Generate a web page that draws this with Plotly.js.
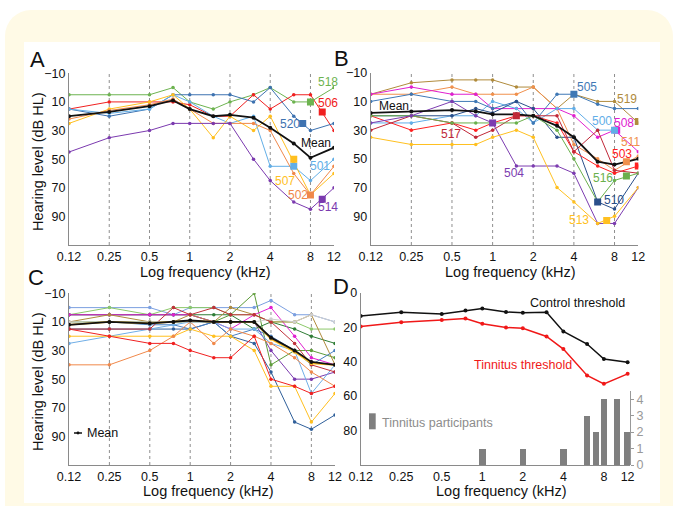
<!DOCTYPE html>
<html><head><meta charset="utf-8">
<script src="https://cdn.plot.ly/plotly-3.0.1.min.js"></script>
<style>
html,body{margin:0;padding:0;background:#fff;}
#wrap{position:relative;width:680px;height:506px;overflow:hidden;background:#fff;}
#cream{position:absolute;left:5px;top:10px;width:668px;height:530px;background:#fffae6;border-radius:26px;}
#white{position:absolute;left:24px;top:42px;width:636px;height:461px;background:#fff;}
#chart{position:absolute;left:0;top:0;width:680px;height:506px;}
</style></head><body>
<div id="wrap"><div id="cream"></div><div id="white"></div><div id="chart"></div></div>
<script>
// ---------- data ----------
const freqs = [0.125,0.25,0.5,0.75,1,1.5,2,3,4,6,8,12];
const tickVals = [0.125,0.25,0.5,1,2,4,8,12];
const tickText = ['0.12','0.25','0.5','1','2','4','8','12'];
const gridVals = [0.25,0.5,1,2,4,8];
const levelTicks = [-10,10,30,50,70,90];
const dTicks = [0,20,40,60,80];
const countTicks = [0,1,2,3,4];

// Panel A (tinnitus participants, group 1)
const A_ids = ['518','506','520','501','507','502','514'];
const A_518 = [5,5,5,0,10,15,10,5,0,10,10,0];
const A_506 = [15,10,10,10,12,20,20,5,15,5,5,30];
const A_520 = [15,20,15,5,5,5,5,10,0,20,30,25];
const A_501 = [15,18,15,5,10,20,25,20,55,55,65,50];
const A_507 = [25,15,10,5,15,35,20,30,20,52,75,60];
const A_502 = [22,16,12,8,15,25,25,25,30,60,75,55];
const A_514 = [45,35,30,25,25,25,25,50,65,80,85,70];
const A_mean = [20,17,13,9,15,20,19,21,28,39,49,42];
const A_pitchF = [8,9.8,7,6,6,8,9.8];
const A_pitchL = [10,17,25,55,50,75,78];

// Panel B (tinnitus participants, group 2)
const B_ids = ['519','511','508','500','505','510','503','517','516','504','513'];
const B_519 = [5,-3,-5,-5,-5,0,0,15,5,10,10,25];
const B_511 = [5,5,0,5,5,5,0,15,40,50,58,48];
const B_508 = [5,0,5,5,15,15,15,15,20,35,30,45];
const B_500 = [25,25,20,20,10,15,25,15,15,30,30,null];
const B_505 = [10,5,10,10,15,10,25,5,5,12,15,15];
const B_510 = [20,20,20,15,18,10,15,35,35,80,85,60];
const B_503 = [20,30,25,30,25,20,20,25,45,55,60,55];
const B_517 = [30,20,25,35,30,20,20,20,45,30,58,60];
const B_516 = [20,20,25,25,25,25,20,30,50,80,65,60];
const B_504 = [25,20,10,20,25,55,55,55,60,95,95,70];
const B_513 = [35,40,40,40,35,30,35,70,80,95,90,70];
const B_mean = [18,17,16,17,19,19,20,27,35,52,54,50];
const B_pitchF = [12,9.8,8.3,8,4,6,12,1.5,9.8,1,7];
const B_pitchL = [24,52,30,30,5,80,55,20,62,25,93];

// Panel C (controls)
const C_1 = [0,0,0,5,0,0,0,0,-5,5,5,10];
const C_2 = [5,0,5,0,0,0,5,5,10,10,15,15];
const C_3 = [5,5,5,5,5,10,10,10,30,50,50,45];
const C_4 = [10,10,10,10,10,10,5,-10,40,30,30,35];
const C_5 = [5,5,5,5,5,5,5,15,10,15,20,25];
const C_6 = [5,5,5,5,5,10,15,5,0,20,35,40];
const C_7 = [10,5,10,10,5,10,0,5,10,10,5,40];
const C_8 = [15,15,15,15,15,10,20,25,45,80,85,75];
const C_9 = [12,10,12,12,15,10,20,15,20,30,40,30];
const C_10 = [25,20,15,12,10,10,15,15,25,30,60,40];
const C_11 = [20,20,20,20,15,20,20,30,55,55,80,60];
const C_12 = [40,40,30,20,10,25,15,20,25,35,45,55];
const C_13 = [15,20,25,25,30,35,35,20,50,55,60,55];
const C_14 = [15,15,15,0,5,0,5,5,10,25,40,45];
const C_15 = [10,10,10,10,10,10,10,10,8,10,5,10];
const C_16 = [12,10,11,10,9,10,10,10,22,31,39,40];
const C_mean = [12,10,11,10,9,10,10,10,21,30,38,40];

// Panel D (group thresholds and tinnitus pitch counts)
const D_control = [13.5,11.3,12.3,10.4,9.2,11.2,11.7,11.3,22.5,29.8,38.5,40.4];
const D_tinnitus = [19.6,17.1,15.8,15.0,18.0,20.2,20.6,25.4,32.7,48.0,52.9,47.1];
const D_pitchFreq = [1,2,4,6,7,8,10,12];
const D_pitchCount = [1,1,1,3,2,4,4,2];

// ---------- styling / layout ----------
const W=680,H=506;
const PX=p=>p/W, PY=p=>1-p/H;
const LOG=Math.log10;
const FONT="Arial, 'Liberation Sans', sans-serif";
const AXC='#8a8a8a';

const colA = {'518':'#6db350','506':'#f02020','520':'#3d72b0','501':'#62aee6','507':'#ffbf1f','502':'#f0884a','514':'#7b3aaf'};
const colB = {'519':'#b08b3c','511':'#f0904d','508':'#e020d0','500':'#62aee8','505':'#3f78b5','510':'#2a4f8a','503':'#ff2020','517':'#c02838','516':'#6ab04c','504':'#7c3cb0','513':'#ffc020'};
const colC = ['#7b9fe0','#8cc86a','#7b3aaf','#5e9c3a','#2f7d36','#e020d0','#b08b3c','#2f5f9a','#4a80c0','#70aee6','#ffbf1f','#f0884a','#f02020','#c0303a','#cfcfcf','#ffc020'];

const A_series = [A_518,A_506,A_520,A_501,A_507,A_502,A_514];
const B_series = [B_519,B_511,B_508,B_500,B_505,B_510,B_503,B_517,B_516,B_504,B_513];
const C_series = [C_1,C_2,C_3,C_4,C_5,C_6,C_7,C_8,C_9,C_10,C_11,C_12,C_13,C_14,C_15,C_16];

const traces = [];
function line(y, color, xa, ya, w, ms){
  traces.push({x:freqs, y:y, xaxis:xa, yaxis:ya, type:'scatter', mode:'lines+markers',
    line:{color:color,width:w||1}, marker:{color:color,size:ms||3.5}, hoverinfo:'skip', showlegend:false});
}
A_series.forEach((s,i)=>line(s,colA[A_ids[i]],'x','y'));
line(A_mean,'#111','x','y',1.8,4);
traces.push({x:A_pitchF,y:A_pitchL,xaxis:'x',yaxis:'y',type:'scatter',mode:'markers',
  marker:{symbol:'square',size:7,color:A_ids.map(id=>colA[id])},hoverinfo:'skip',showlegend:false});

B_series.forEach((s,i)=>line(s,colB[B_ids[i]],'x2','y2'));
line(B_mean,'#111','x2','y2',1.8,4);
traces.push({x:B_pitchF,y:B_pitchL,xaxis:'x2',yaxis:'y2',type:'scatter',mode:'markers',
  marker:{symbol:'square',size:7,color:B_ids.map(id=>colB[id])},hoverinfo:'skip',showlegend:false});

C_series.forEach((s,i)=>line(s,colC[i],'x3','y3', i===15?1.6:1));
line(C_mean,'#111','x3','y3',1.8,4);

line(D_control,'#111','x4','y4',1.5,4);
line(D_tinnitus,'#f01818','x4','y4',1.5,4);
traces.push({x:D_pitchFreq.map(LOG), y:D_pitchCount, xaxis:'x5', yaxis:'y5', type:'bar',
  width:0.048, marker:{color:'#7f7f7f',line:{width:0}}, hoverinfo:'skip', showlegend:false});

const tf = {family:FONT,size:12.5,color:'#111'};
function xAx(d0,d1,anchor,hi){
  return {domain:[PX(d0),PX(d1)],anchor:anchor,type:'log',range:[LOG(0.125),LOG(hi)],
    tickmode:'array',tickvals:tickVals,ticktext:tickText,ticks:'',showgrid:false,zeroline:false,
    showline:true,linecolor:AXC,linewidth:1,tickfont:tf,fixedrange:true};
}
function yAx(top,bot,anchor,range,tv){
  return {domain:[PY(bot),PY(top)],anchor:anchor,range:range,tickmode:'array',tickvals:tv,
    ticks:'',showgrid:false,zeroline:false,showline:true,linecolor:AXC,linewidth:1,tickfont:tf,fixedrange:true};
}

const layout = {
  width:W,height:H,margin:{l:0,r:0,t:0,b:0},
  paper_bgcolor:'rgba(0,0,0,0)',plot_bgcolor:'rgba(0,0,0,0)',
  font:{family:FONT},showlegend:false,bargap:0,
  xaxis:xAx(69,334,'y',12),
  yaxis:yAx(73.3,245,'x',[110,-10],levelTicks),
  xaxis2:xAx(370.7,638.3,'y2',12),
  yaxis2:yAx(72.7,245,'x2',[110,-10],levelTicks),
  xaxis3:xAx(69,335,'y3',12),
  yaxis3:yAx(293.3,465,'x3',[110,-10],levelTicks),
  xaxis4:xAx(360.7,630,'y4',12.5),
  yaxis4:yAx(292.7,465,'x4',[100,0],dTicks),
  xaxis5:{domain:[PX(360.7),PX(630)],anchor:'y5',range:[LOG(0.125),LOG(12.5)],visible:false,fixedrange:true},
  yaxis5:{domain:[PY(465),PY(391)],anchor:'x5',side:'right',range:[0,4.5],tickmode:'array',tickvals:countTicks,
    ticks:'outside',ticklen:3,tickcolor:'#999',showline:true,linecolor:'#999',showgrid:false,zeroline:false,
    tickfont:{family:FONT,size:12.5,color:'#999'},fixedrange:true},
  shapes:[],annotations:[]
};

// dotted vertical grid lines at tick frequencies (panels A-C)
['x','x2','x3'].forEach((xr,k)=>{
  const yr = ['y','y2','y3'][k];
  gridVals.forEach(g=>layout.shapes.push({type:'line',xref:xr,yref:yr+' domain',x0:g,x1:g,y0:0,y1:1,
    line:{color:'#8f8f8f',width:1,dash:'dot'},layer:'below'}));
});

function ann(text,x,y,size,color,opts){
  layout.annotations.push(Object.assign({text:text,xref:'paper',yref:'paper',x:PX(x),y:PY(y),
    showarrow:false,xanchor:'center',yanchor:'middle',font:{family:FONT,size:size,color:color||'#111'}},opts||{}));
}
// panel letters
ann('A',37,60,22); ann('B',341,58,22); ann('C',36,277,22); ann('D',341,286,22);
// axis titles
ann('Log frequency (kHz)',205,272,14.5); ann('Log frequency (kHz)',510,272,14.5);
ann('Log frequency (kHz)',208,491,14.5); ann('Log frequency (kHz)',501,491,14.5);
ann('Hearing level (dB HL)',38,162,14.5,'#111',{textangle:-90});
ann('Hearing level (dB HL)',38,382,14.5,'#111',{textangle:-90});
// panel A labels
const A_labelPos = {'518':[328,82],'506':[328,103],'520':[290,124],'501':[320,166],'507':[285,181],'502':[298,195],'514':[328,207]};
A_ids.forEach(id=>ann(id,A_labelPos[id][0],A_labelPos[id][1],12,colA[id]));
ann('Mean',316,143,12,'#111');
// panel B labels
const B_labelPos = {'505':[587,87],'519':[627,99],'500':[602,121],'508':[624,123],'511':[630,142],'517':[451,134],
  '503':[622,154],'504':[514,173],'516':[603,178],'510':[614,200],'513':[579,220]};
B_ids.forEach(id=>ann(id,B_labelPos[id][0],B_labelPos[id][1],12,colB[id]));
ann('Mean',394,106,12,'#111');
// panel C mean key
layout.shapes.push({type:'line',xref:'paper',yref:'paper',x0:PX(74),x1:PX(82),y0:PY(433),y1:PY(433),line:{color:'#111',width:1.5}});
layout.shapes.push({type:'circle',xref:'paper',yref:'paper',x0:PX(76.6),x1:PX(79.4),y0:PY(434.4),y1:PY(431.6),fillcolor:'#111',line:{width:0}});
ann('Mean',85,433,12.5,'#111',{xanchor:'left'});
// panel D labels
ann('Control threshold',577,303,12.5,'#111');
ann('Tinnitus threshold',523,365,12.5,'#f01818');
layout.shapes.push({type:'rect',xref:'paper',yref:'paper',x0:PX(369),x1:PX(375.7),y0:PY(429.3),y1:PY(413.3),fillcolor:'#7f7f7f',line:{width:0}});
ann('Tinnitus participants',380,423,12.5,'#8c8c8c',{xanchor:'left'});

Plotly.newPlot('chart',traces,layout,{displayModeBar:false,staticPlot:true});
</script>
</body></html>
